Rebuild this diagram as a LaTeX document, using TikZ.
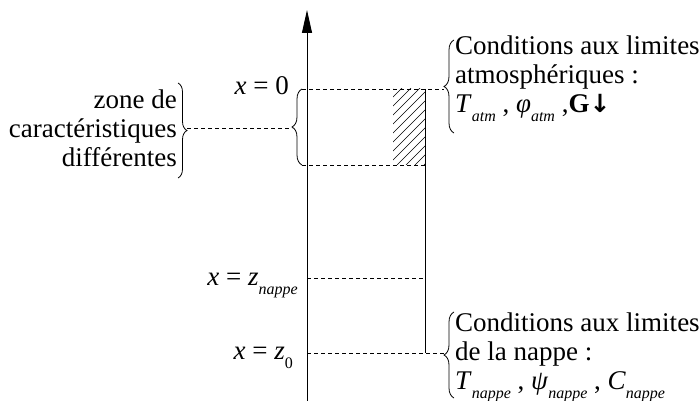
\documentclass[tikz,border=0pt]{standalone}
\usepackage{fontspec}
\setmainfont{Liberation Serif}
\newfontfamily\arrowfont{DejaVu Sans}
\usepackage{tikz}
\usetikzlibrary{arrows.meta,decorations.pathreplacing}
\newcommand{\lowsub}[1]{\raisebox{-9pt}{\fontsize{16}{16}\selectfont #1}}

\begin{document}
\begin{tikzpicture}[x=1pt, y=-1pt,
  txt/.style={inner sep=0pt, font=\fontsize{27}{29}\selectfont},
  dline/.style={dash pattern=on 4pt off 3pt, line width=0.8pt},
  sline/.style={line width=1pt},
  brc/.style={decorate, decoration={brace, amplitude=10pt}, line width=0.8pt}
]
\useasboundingbox (0,0) rectangle (699,401);

\coordinate (axbot) at (307,401);
\coordinate (axtop) at (307,10);
\coordinate (b0) at (302,89);
\coordinate (r0) at (425,89);
\coordinate (atip) at (444,89);
\coordinate (b1) at (302,165);
\coordinate (r1) at (425,165);
\coordinate (an) at (307,278);
\coordinate (rn) at (425,278);
\coordinate (az) at (307,353);
\coordinate (rz) at (425,353);
\coordinate (ntip) at (444,353);
\coordinate (ztip) at (187,128);
\coordinate (itip) at (292,128);

% hatched zone
\begin{scope}
  \clip (393,89) rectangle (r1);
  \foreach \k in {316,325,...,434}
    \draw[line width=0.7pt] (\k,165) -- ++(80,-80);
\end{scope}

\draw[sline, -{Triangle[length=23pt,width=10pt]}] (axbot) -- (axtop);
\draw[sline] (r0) -- (rz);

\draw[dline] (b0) -- (r0) -- (atip);
\draw[dline] (b1) -- (r1);
\draw[dline] (an) -- (rn);
\draw[dline] (az) -- (rz) -- (ntip);
\draw[dline] (ztip) -- (itip);

% braces
\draw[brc] (454,133) -- (454,40);
\draw[brc] (454,398) -- (454,312);
\draw[brc] (302,165) -- (302,89);
\draw[brc, decoration={amplitude=9pt}] (178,83) -- (178,178);

\node[txt, anchor=base east] (lzero) at (289,95) {\textit{x} = 0};
\node[txt, anchor=base east] (lnappe) at (298,285) {\textit{x} = \textit{z}\lowsub{\textit{nappe}}};
\node[txt, anchor=base east] (lfond) at (293,359) {\textit{x} = \textit{z}\lowsub{0}};

\node[txt, align=right, anchor=east] (zone) at (177,128) {zone de\\caractéristiques\\différentes};
\node[txt, align=left, anchor=north west] (atmo) at (455,36)
  {Conditions aux limites\\atmosphériques :\\\textit{T}\lowsub{\textit{atm}} , \textit{φ}\lowsub{\textit{atm}} ,\textbf{G}{\arrowfont\bfseries\fontsize{25}{25}\selectfont↓}};
\node[txt, align=left, anchor=north west] (nappe) at (455,313)
  {Conditions aux limites\\de la nappe :\\\textit{T}\lowsub{\textit{nappe}} , \textit{ψ}\lowsub{\textit{nappe}} , \textit{C}\lowsub{\textit{nappe}}};
\end{tikzpicture}
\end{document}
